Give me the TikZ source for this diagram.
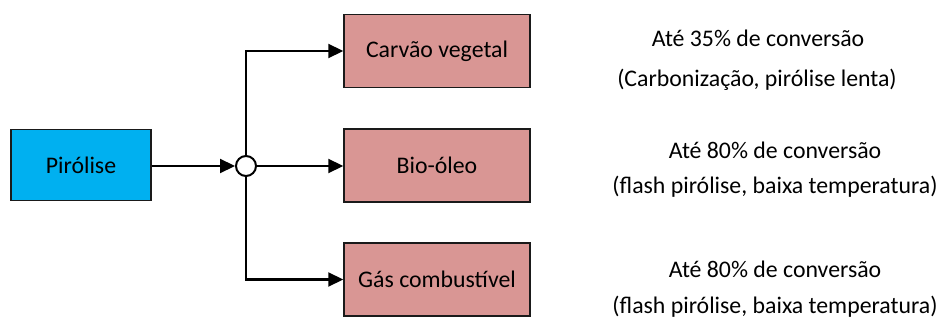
\documentclass[tikz,border=0pt]{standalone}
\usepackage{fontspec}
\setmainfont{Carlito}
\usetikzlibrary{arrows.meta}
\definecolor{feedblue}{HTML}{00B0F0}
\definecolor{prodpink}{HTML}{D99694}
\definecolor{edgegray}{HTML}{1A1A1A}
\tikzset{
  procbox/.style={draw=edgegray, line width=1.5pt, inner sep=0pt,
    minimum width=186pt, minimum height=73pt, fill=prodpink,
    font=\fontsize{23.8}{28}\selectfont},
  flow/.style={line width=2.2pt, -{Triangle[length=15pt,width=14pt]}},
  note/.style={font=\fontsize{23.8}{28}\selectfont, inner sep=0pt, anchor=center}
}
\begin{document}
\begin{tikzpicture}[x=1pt,y=-1pt]
  \useasboundingbox (0,0) rectangle (942,320);

  % feed and products
  \node[procbox, fill=feedblue, minimum width=140pt, minimum height=71pt] (pir) at (81,165) {Pirólise};
  \node[procbox] (carv) at (437,51) {Carvão vegetal};
  \node[procbox] (bio)  at (437,165.5) {Bio-óleo};
  \node[procbox] (gas)  at (437,279.5) {Gás combustível};

  % splitting junction
  \node[circle, draw=black, fill=white, line width=2pt, minimum size=20pt, inner sep=0pt] (jn) at (246,166) {};

  % connectors
  \draw[flow] (pir.east |- jn) -- (jn.west);
  \draw[flow] (jn.north) |- (carv.west);
  \draw[flow] (jn.east) -- (bio.west |- jn);
  \draw[flow] (jn.south) |- (gas.west);

  % conversion notes
  \node[note] (n1a) at (758,38)  {Até 35\% de conversão};
  \node[note] (n1b) at (757,80)  {(Carbonização, pirólise lenta)};
  \node[note] (n2a) at (775,150) {Até 80\% de conversão};
  \node[note] (n2b) at (775,187) {(flash pirólise, baixa temperatura)};
  \node[note] (n3a) at (775,269) {Até 80\% de conversão};
  \node[note] (n3b) at (775,307) {(flash pirólise, baixa temperatura)};
\end{tikzpicture}
\end{document}
